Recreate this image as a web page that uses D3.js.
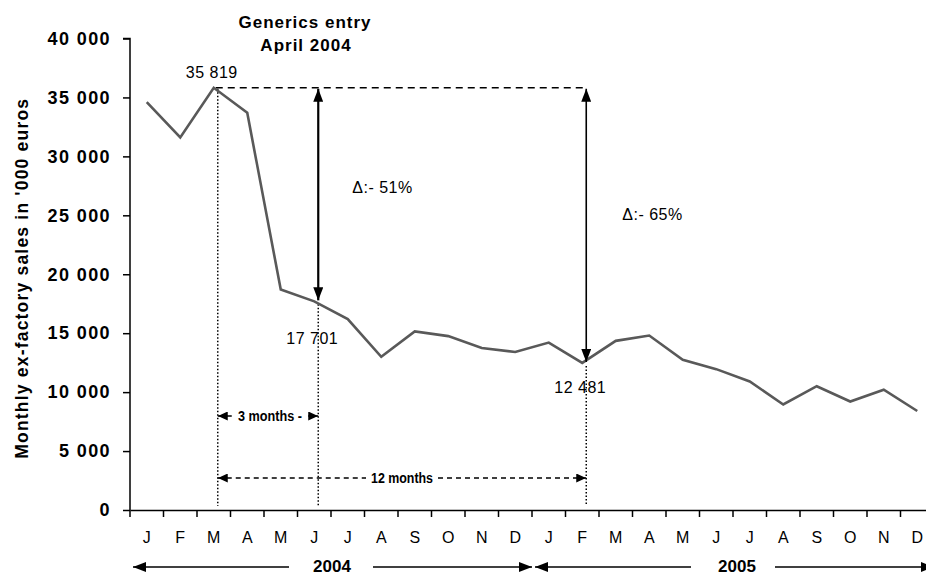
<!DOCTYPE html>
<html>
<head>
<meta charset="utf-8">
<script src="https://cdn.jsdelivr.net/npm/d3@7"></script>
<style>
  html, body { margin: 0; padding: 0; background: #fff; }
  svg { display: block; font-family: "Liberation Sans", Arial, Helvetica, sans-serif; }
</style>
</head>
<body>
<svg id="chart" width="926" height="576"></svg>
<script>
// ---- data ----
const monthLabels = ["J","F","M","A","M","J","J","A","S","O","N","D",
                     "J","F","M","A","M","J","J","A","S","O","N","D"];
const sales2004 = [34600, 31600, 35819, 33700, 18700, 17701, 16200, 13000, 15150, 14750, 13750, 13400];
const sales2005 = [14200, 12481, 14350, 14800, 12750, 11950, 10900, 8950, 10500, 9200, 10200, 8400];
const years = ["2004", "2005"];
const yTicks = [0, 5000, 10000, 15000, 20000, 25000, 30000, 35000, 40000];
const peakIndex = 2;      // March 2004
const threeMonthIndex = 5; // June 2004
const twelveMonthIndex = 13; // February 2005
const deltaLabels = ["\u0394:- 51%", "\u0394:- 65%"];
const titleLines = ["Generics entry", "April 2004"];
const yTitle = "Monthly ex-factory sales in '000 euros";

const values = sales2004.concat(sales2005);
const idx = d3.range(values.length);

const svg = d3.select("#chart");
const x = d3.scaleBand().domain(idx).range([130, 934]).padding(0);
const y = d3.scaleLinear().domain([0, 40000]).range([510, 38.5]);
const bw = x.bandwidth();
const cx = i => x(i) + bw / 2;
const fmt = v => d3.format(",")(v).replace(/,/g, " ");

// ---- defs: arrowheads ----
const defs = svg.append("defs");
function marker(id, w, h) {
  defs.append("marker").attr("id", id)
    .attr("viewBox", `0 0 ${w} ${h}`).attr("refX", w).attr("refY", h / 2)
    .attr("markerWidth", w).attr("markerHeight", h)
    .attr("markerUnits", "userSpaceOnUse").attr("orient", "auto-start-reverse")
    .append("path").attr("d", `M0,0L${w},${h/2}L0,${h}Z`).attr("fill", "#000");
}
marker("ah", 13, 10);
marker("ahs", 10, 9);

// ---- y axis ----
const yAxis = svg.append("g").attr("transform", "translate(130,0)")
  .call(d3.axisLeft(y).tickValues(yTicks).tickSize(7).tickPadding(12)
        .tickFormat(d => fmt(d)));
yAxis.select(".domain").attr("stroke", "#000").attr("stroke-width", 1.5).attr("d", `M-7,${y(40000)}H0V${y(0)}`);
yAxis.selectAll(".tick line").attr("stroke", "#000").attr("stroke-width", 1.5);
yAxis.selectAll(".tick text").attr("font-size", 18).attr("font-weight", "bold")
  .attr("letter-spacing", 1.4).attr("fill", "#000").attr("font-family", "Liberation Sans, Arial, sans-serif");

// ---- x axis ----
const xAxis = svg.append("g").attr("transform", `translate(0,${y(0)})`)
  .call(d3.axisBottom(x).tickSize(0).tickPadding(22).tickFormat(i => monthLabels[i]));
xAxis.select(".domain").attr("stroke", "#000").attr("stroke-width", 1.5);
xAxis.selectAll(".tick text").attr("font-size", 16).attr("fill", "#000")
  .attr("font-family", "Liberation Sans, Arial, sans-serif");
const boundaries = idx.map(i => x(i)).concat([x(idx.length - 1) + bw]);
svg.append("g").selectAll("line").data(boundaries).join("line")
  .attr("x1", d => d).attr("x2", d => d).attr("y1", y(0)).attr("y2", y(0) + 7)
  .attr("stroke", "#000").attr("stroke-width", 1.5);

// ---- y title ----
svg.append("text").attr("transform", `translate(28,${(y(0) + y(40000)) / 2 + 4}) rotate(-90)`)
  .attr("text-anchor", "middle").attr("font-size", 17.5).attr("font-weight", "bold")
  .attr("letter-spacing", 1.2).text(yTitle);

// ---- annotation guides (drawn under the line) ----
const peakY = y(values[peakIndex]);
const guideIdx = [peakIndex, threeMonthIndex, twelveMonthIndex];
svg.append("g").selectAll("line").data(guideIdx).join("line")
  .attr("x1", i => cx(i) + 4).attr("x2", i => cx(i) + 4)
  .attr("y1", i => y(values[i]) + (i === peakIndex ? 1 : 3)).attr("y2", y(0) - 4)
  .attr("stroke", "#000").attr("stroke-width", 1.5).attr("stroke-dasharray", "1.5,2");

// horizontal dashed reference at peak
svg.append("line").attr("x1", cx(peakIndex) + 2).attr("x2", cx(twelveMonthIndex) + 5)
  .attr("y1", peakY).attr("y2", peakY)
  .attr("stroke", "#000").attr("stroke-width", 1.5).attr("stroke-dasharray", "7,5");

// ---- data line ----
svg.append("path").datum(values)
  .attr("d", d3.line().x((d, i) => cx(i)).y(d => y(d)))
  .attr("fill", "none").attr("stroke", "#595959").attr("stroke-width", 2.6)
  .attr("stroke-linejoin", "miter");

// ---- delta arrows ----
const deltaIdx = [threeMonthIndex, twelveMonthIndex];
deltaIdx.forEach((i, k) => {
  const ax = cx(i) + 4;
  svg.append("line").attr("x1", ax).attr("x2", ax)
    .attr("y1", peakY + 1).attr("y2", y(values[i]) - 1)
    .attr("stroke", "#000").attr("stroke-width", k === 0 ? 2.2 : 1.6)
    .attr("marker-start", "url(#ah)").attr("marker-end", "url(#ah)");
  svg.append("text").attr("x", ax + (k === 0 ? 34 : 36))
    .attr("y", k === 0 ? 193 : 220).attr("font-size", 16).attr("letter-spacing", 0.5)
    .text(deltaLabels[k]);
});

// ---- value labels ----
svg.append("text").attr("x", cx(peakIndex) - 2).attr("y", 78).attr("text-anchor", "middle")
  .attr("font-size", 16).attr("letter-spacing", 0.5).text(fmt(values[peakIndex]));
svg.append("text").attr("x", cx(threeMonthIndex) - 2).attr("y", 344).attr("text-anchor", "middle")
  .attr("font-size", 16).attr("letter-spacing", 0.5).text(fmt(values[threeMonthIndex]));
svg.append("text").attr("x", cx(twelveMonthIndex) - 2).attr("y", 393).attr("text-anchor", "middle")
  .attr("font-size", 16).attr("letter-spacing", 0.5).text(fmt(values[twelveMonthIndex]));

// ---- title ----
svg.append("text").attr("x", 305).attr("y", 28).attr("text-anchor", "middle")
  .attr("font-size", 17).attr("font-weight", "bold").attr("letter-spacing", 1).text(titleLines[0]);
svg.append("text").attr("x", 306).attr("y", 51).attr("text-anchor", "middle")
  .attr("font-size", 17).attr("font-weight", "bold").attr("letter-spacing", 1).text(titleLines[1]);

// ---- 3 months span ----
const sx0 = cx(peakIndex) + 4, sx1 = cx(threeMonthIndex) + 4, s3y = 416;
svg.append("line").attr("x1", sx0).attr("x2", sx0 + 14).attr("y1", s3y).attr("y2", s3y)
  .attr("stroke", "#000").attr("stroke-width", 1.5).attr("marker-start", "url(#ahs)");
svg.append("line").attr("x1", sx1 - 10).attr("x2", sx1).attr("y1", s3y).attr("y2", s3y)
  .attr("stroke", "#000").attr("stroke-width", 1.5).attr("marker-end", "url(#ahs)");
svg.append("text").attr("x", (sx0 + sx1) / 2 + 2).attr("y", s3y + 5).attr("text-anchor", "middle")
  .attr("font-size", 14).attr("font-weight", "bold").attr("textLength", 64)
  .attr("lengthAdjust", "spacingAndGlyphs").text("3 months -");

// ---- 12 months span ----
const tx1 = cx(twelveMonthIndex) + 4, t12y = 478;
const tmid = 402;
svg.append("line").attr("x1", sx0).attr("x2", tmid - 36).attr("y1", t12y).attr("y2", t12y)
  .attr("stroke", "#000").attr("stroke-width", 1.5).attr("stroke-dasharray", "5,4")
  .attr("marker-start", "url(#ahs)");
svg.append("line").attr("x1", tmid + 36).attr("x2", tx1).attr("y1", t12y).attr("y2", t12y)
  .attr("stroke", "#000").attr("stroke-width", 1.5).attr("stroke-dasharray", "5,4")
  .attr("marker-end", "url(#ahs)");
svg.append("text").attr("x", tmid).attr("y", t12y + 5).attr("text-anchor", "middle")
  .attr("font-size", 14).attr("font-weight", "bold").attr("textLength", 62)
  .attr("lengthAdjust", "spacingAndGlyphs").text("12 months");

// ---- year spans ----
const yearY = 567;
years.forEach((yr, k) => {
  const a = x(k * 12) + 3;
  const b = x(k * 12 + 11) + bw;
  const mid = (x(k * 12) + b) / 2;
  svg.append("line").attr("x1", a).attr("x2", mid - 42).attr("y1", yearY).attr("y2", yearY)
    .attr("stroke", "#000").attr("stroke-width", 1.5).attr("marker-start", "url(#ah)");
  svg.append("line").attr("x1", mid + 42).attr("x2", b).attr("y1", yearY).attr("y2", yearY)
    .attr("stroke", "#000").attr("stroke-width", 1.5).attr("marker-end", "url(#ah)");
  svg.append("text").attr("x", mid + (k === 0 ? 1 : 4)).attr("y", 572).attr("text-anchor", "middle")
    .attr("font-size", 17).attr("font-weight", "bold").text(yr);
});
</script>
</body>
</html>
